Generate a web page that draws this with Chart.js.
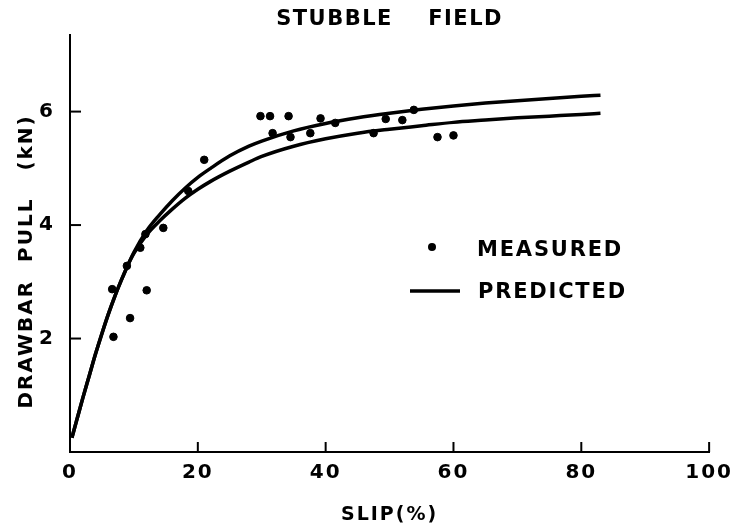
<!DOCTYPE html>
<html>
<head>
<meta charset="utf-8">
<script src="https://cdn.jsdelivr.net/npm/chart.js@4"></script>
<style>
  body { margin: 0; background: #fff; }
  canvas { display: block; }
</style>
</head>
<body>
<canvas id="slipChart" width="731" height="532"></canvas>
<script>
// measured drawbar pull vs slip
const measuredSlip = [6.8, 6.6, 9.4, 8.9, 12.0, 11.0, 11.8, 14.6, 18.5, 21.0,
  29.8, 31.3, 34.2, 39.2, 31.7, 34.5, 37.6, 41.5, 49.4, 52.0, 47.5, 53.8, 57.5, 60.0];
const measuredPull = [2.03, 2.87, 2.36, 3.28, 2.85, 3.6, 3.84, 3.95, 4.6, 5.15,
  5.92, 5.92, 5.92, 5.88, 5.62, 5.55, 5.62, 5.8, 5.87, 5.85, 5.62, 6.03, 5.55, 5.58];

// predicted curves (two lines, same legend entry)
const predSlip = [0.3, 1, 2, 3, 4, 5, 6, 7, 8, 9, 10, 12, 14, 16, 18, 20, 22, 25, 28, 30,
  35, 40, 45, 50, 55, 60, 65, 70, 75, 80, 83];
const predUpper = [0.25, 0.54, 0.95, 1.34, 1.73, 2.09, 2.43, 2.74, 3.02, 3.28, 3.52, 3.9, 4.18, 4.43, 4.65, 4.84, 5.0, 5.22, 5.39, 5.48,
  5.66, 5.79, 5.89, 5.97, 6.04, 6.1, 6.15, 6.19, 6.23, 6.27, 6.29];
const predLower = [0.25, 0.54, 0.95, 1.34, 1.73, 2.09, 2.43, 2.74, 3.02, 3.28, 3.5, 3.83, 4.07, 4.28, 4.47, 4.63, 4.77, 4.95, 5.11, 5.21,
  5.39, 5.52, 5.62, 5.69, 5.75, 5.81, 5.85, 5.89, 5.92, 5.95, 5.97];

const xTicks = [0, 20, 40, 60, 80, 100];
const yTicks = [2, 4, 6];

const titleText = 'STUBBLE    FIELD';
const legendLabels = ['MEASURED', 'PREDICTED'];

const toPoints = (xs, ys) => xs.map((x, i) => ({ x, y: ys[i] }));

Chart.defaults.font.family = '"DejaVu Sans", sans-serif';
Chart.defaults.color = '#000';

// inward tick marks, title and the in-plot legend
const paperPlugin = {
  id: 'paper',
  beforeDraw(chart) {
    const ctx = chart.ctx;
    ctx.save();
    ctx.fillStyle = '#fff';
    ctx.fillRect(0, 0, chart.width, chart.height);
    ctx.restore();
    ctx.letterSpacing = '2px';
  },
  afterDraw(chart) {
    const { ctx, chartArea } = chart;
    const x = chart.scales.x, y = chart.scales.y;
    ctx.save();
    ctx.strokeStyle = '#000';
    ctx.lineWidth = 2;
    xTicks.forEach(v => {
      if (v === 0) return;
      const px = x.getPixelForValue(v);
      ctx.beginPath();
      ctx.moveTo(px, chartArea.bottom);
      ctx.lineTo(px, chartArea.bottom - 10);
      ctx.stroke();
    });
    yTicks.forEach(v => {
      const py = y.getPixelForValue(v);
      ctx.beginPath();
      ctx.moveTo(chartArea.left, py);
      ctx.lineTo(chartArea.left + 11, py);
      ctx.stroke();
    });

    ctx.fillStyle = '#000';
    ctx.textBaseline = 'middle';
    ctx.letterSpacing = '1.5px';
    ctx.textAlign = 'center';
    ctx.font = 'bold 21px "DejaVu Sans"';
    ctx.fillText(titleText, (chartArea.left + chartArea.right) / 2, 20);

    // legend
    ctx.textAlign = 'left';
    ctx.letterSpacing = '1.8px';
    ctx.font = 'bold 21px "DejaVu Sans"';
    ctx.beginPath();
    ctx.arc(432, 247, 4, 0, Math.PI * 2);
    ctx.fill();
    ctx.fillText(legendLabels[0], 477, 251);
    ctx.lineWidth = 3.5;
    ctx.beginPath();
    ctx.moveTo(410, 291);
    ctx.lineTo(460, 291);
    ctx.stroke();
    ctx.fillText(legendLabels[1], 478, 293);
    ctx.restore();
    ctx.letterSpacing = '0px';
  }
};

const ctx = document.getElementById('slipChart').getContext('2d');
new Chart(ctx, {
  type: 'scatter',
  data: {
    datasets: [
      {
        label: legendLabels[0],
        data: toPoints(measuredSlip, measuredPull),
        backgroundColor: '#000',
        borderColor: '#000',
        pointRadius: 3.8,
        pointHoverRadius: 3.8
      },
      {
        label: legendLabels[1],
        data: toPoints(predSlip, predUpper),
        showLine: true,
        borderColor: '#000',
        borderWidth: 3.5,
        pointRadius: 0,
        cubicInterpolationMode: 'monotone'
      },
      {
        label: legendLabels[1] + ' (2)',
        data: toPoints(predSlip, predLower),
        showLine: true,
        borderColor: '#000',
        borderWidth: 3.5,
        pointRadius: 0,
        cubicInterpolationMode: 'monotone'
      }
    ]
  },
  options: {
    responsive: false,
    animation: false,
    layout: { padding: { top: 35, right: 16, bottom: 0, left: 0 } },
    plugins: {
      legend: { display: false },
      title: { display: false },
      tooltip: { enabled: false }
    },
    scales: {
      x: {
        type: 'linear',
        min: 0,
        max: 100,
        grid: { display: false },
        border: { display: true, color: '#000', width: 2 },
        ticks: { stepSize: 20, padding: 1, maxRotation: 0, color: '#000', font: { size: 20, weight: 'bold' } },
        title: { display: true, text: 'SLIP(%)', color: '#000', font: { size: 19, weight: 'bold' }, padding: { top: 0, bottom: 6 } },
        afterFit(scale) { scale.height = 80; }
      },
      y: {
        type: 'linear',
        min: 0,
        max: 7.35,
        grid: { display: false },
        border: { display: true, color: '#000', width: 2 },
        afterBuildTicks(scale) { scale.ticks = yTicks.map(v => ({ value: v })); },
        ticks: { padding: 7, color: '#000', font: { size: 20, weight: 'bold' } },
        title: { display: true, text: 'DRAWBAR  PULL   (kN)    ', color: '#000', font: { size: 20, weight: 'bold' }, padding: { top: 15, bottom: 0 } },
        afterFit(scale) { scale.width = 70; }
      }
    }
  },
  plugins: [paperPlugin]
});
</script>
</body>
</html>
